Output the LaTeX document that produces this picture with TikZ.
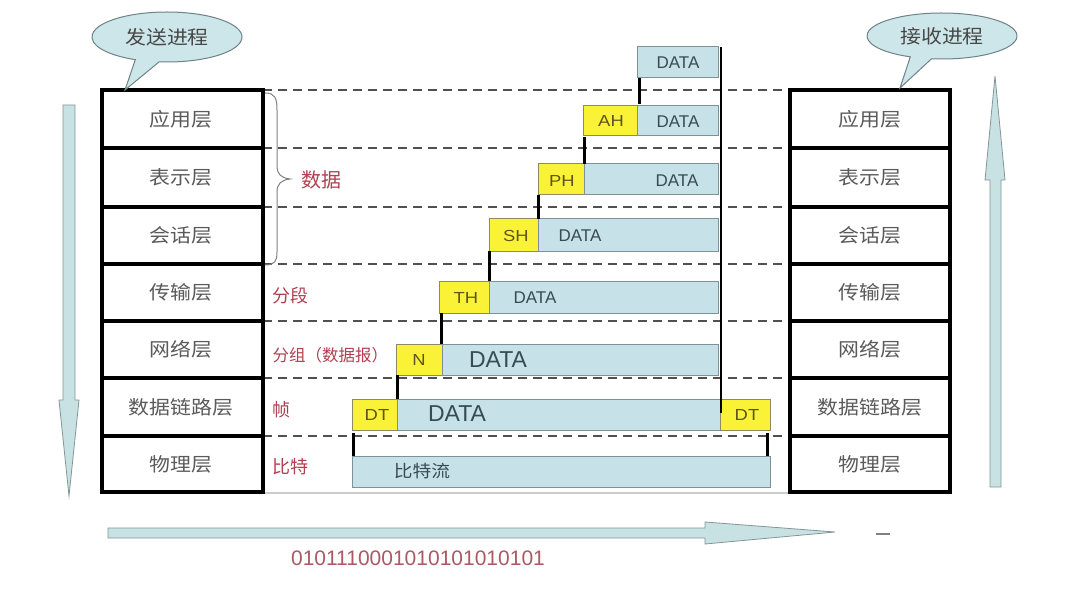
\documentclass[tikz,border=0pt]{standalone}
\usepackage{fontspec}
\setmainfont{Liberation Sans}
\newfontfamily\cjk{Noto Sans CJK SC}
\definecolor{bluefill}{RGB}{198,225,231}
\definecolor{blueline}{RGB}{125,145,150}
\definecolor{hdrfill}{RGB}{250,242,55}
\definecolor{hdrline}{RGB}{140,140,100}
\definecolor{layertxt}{RGB}{90,90,90}
\definecolor{redlbl}{RGB}{176,64,80}
\definecolor{bitstxt}{RGB}{170,90,100}
\definecolor{datatxt}{RGB}{55,75,85}
\definecolor{hdrtxt}{RGB}{95,85,25}
\definecolor{bubfill}{RGB}{205,230,233}
\definecolor{bubline}{RGB}{110,130,135}
\definecolor{arrfill}{RGB}{200,226,228}
\definecolor{arrline}{RGB}{130,150,150}
\definecolor{dashcol}{RGB}{80,80,80}
\begin{document}
\begin{tikzpicture}[x=1pt,y=-1pt,
  layerbox/.style={draw=black, line width=3.8pt, fill=white},
  layertext/.style={font=\cjk\fontsize{19}{21}\selectfont, text=layertxt, xscale=1.1},
  dashline/.style={draw=dashcol, line width=2pt, dash pattern=on 9pt off 6pt},
  datab/.style={fill=bluefill, draw=blueline, line width=1pt},
  hdrb/.style={fill=hdrfill, draw=hdrline, line width=1pt},
  dtxt/.style={font=\fontsize{17}{19}\selectfont, text=datatxt},
  bigtxt/.style={font=\fontsize{23}{25}\selectfont, text=datatxt},
  htxt/.style={font=\fontsize{16}{18}\selectfont, text=hdrtxt, xscale=1.15},
  redtxt/.style={font=\cjk\fontsize{18}{20}\selectfont, text=redlbl, anchor=west},
  tick/.style={draw=black, line width=3pt},
  bubble/.style={fill=bubfill, draw=bubline, line width=1pt},
  bubtext/.style={font=\cjk\fontsize{19}{21}\selectfont, text=layertxt!80!black, xscale=1.1},
  bigarrow/.style={fill=arrfill, draw=arrline, line width=0.8pt}
]
\useasboundingbox (0,0) rectangle (1092,604);
\fill[white] (0,0) rectangle (1092,604);

% dashed layer boundaries
\foreach \y in {90,148,207,264,321,378,436}
  \draw[dashline] (263,\y) -- (790,\y);
\draw[gray!40, line width=1.2pt] (263,493) -- (790,493);

% layer stacks
\foreach [count=\i] \t/\a/\b in {应用层/90/148, 表示层/148/207, 会话层/207/264, 传输层/264/321, 网络层/321/378, 数据链路层/378/436, 物理层/436/492} {
  \draw[layerbox] (102,\a) rectangle (263,\b);
  \node[layertext] (L\i) at (181,{(\a+\b)/2}) {\t};
  \draw[layerbox] (790,\a) rectangle (950,\b);
  \node[layertext] (R\i) at (870,{(\a+\b)/2}) {\t};
}

% brace
\draw[gray, line width=1pt] (265,93) .. controls (275,93) and (277,98) .. (277,110)
  -- (277,166) .. controls (277,174) and (281,178) .. (290,179)
  .. controls (281,180) and (277,184) .. (277,192)
  -- (277,252) .. controls (277,261) and (275,265) .. (265,265);

% labels
\node[redtxt, font=\cjk\fontsize{20}{22}\selectfont] (lbl1) at (298,180) {数据};
\node[redtxt] (lbl2) at (269,296) {分段};
\node[redtxt, font=\cjk\fontsize{16.5}{18}\selectfont] (lbl3) at (269,355) {分组（数据报）};
\node[redtxt] (lbl4) at (269,410) {帧};
\node[redtxt] (lbl5) at (269,467) {比特};

% data blocks
\draw[datab] (637,47) rectangle (718,78);
\node[dtxt] (d0) at (678,63) {DATA};

\draw[hdrb] (583,106) rectangle (637,136);
\node[htxt] (h1) at (611,121) {AH};
\draw[datab] (637,106) rectangle (718,136);
\node[dtxt] (d1) at (678,122) {DATA};

\draw[hdrb] (538,164) rectangle (584,195);
\node[htxt] (h2) at (562,181) {PH};
\draw[datab] (584,164) rectangle (718,195);
\node[dtxt] (d2) at (677,181) {DATA};

\draw[hdrb] (489,219) rectangle (538,251);
\node[htxt] (h3) at (516,236) {SH};
\draw[datab] (538,219) rectangle (718,251);
\node[dtxt] (d3) at (580,236) {DATA};

\draw[hdrb] (439,281) rectangle (489,313);
\node[htxt] (h4) at (466,298) {TH};
\draw[datab] (489,281) rectangle (718,313);
\node[dtxt] (d4) at (535,298) {DATA};

\draw[hdrb] (396,344) rectangle (442,375);
\node[htxt] (h5) at (419,360) {N};
\draw[datab] (442,344) rectangle (718,375);
\node[bigtxt] (d5) at (498,360) {DATA};

\draw[hdrb] (352,399) rectangle (397,430);
\node[htxt] (h6) at (377,415) {DT};
\draw[datab] (397,399) rectangle (720,430);
\node[bigtxt] (d6) at (457,414) {DATA};
\draw[hdrb] (720,399) rectangle (770,430);
\node[htxt] (h7) at (747,415) {DT};

\draw[datab] (352,456) rectangle (770,487);
\node[font=\cjk\fontsize{17}{19}\selectfont, text=datatxt, xscale=1.1] (bs) at (422,471) {比特流};

% ticks
\draw[tick] (639,78) -- (639,104);
\draw[tick] (584,137) -- (584,164);
\draw[tick] (538,195) -- (538,219);
\draw[tick] (489,251) -- (489,281);
\draw[tick] (441,313) -- (441,344);
\draw[tick] (397,375) -- (397,399);
\draw[tick] (353,433) -- (353,456);
\draw[tick] (767,433) -- (767,456);
\draw[draw=black, line width=2.5pt] (721,47) -- (721,413);

% speech bubbles
\draw[bubble] (167,37) ++(96:75 and 25) arc[start angle=96, end angle=-245, x radius=75, y radius=25] -- (125,90) -- cycle;
\node[bubtext] (sendp) at (167,37) {发送进程};
\draw[bubble] (942,36) ++(98:75 and 23) arc[start angle=98, end angle=-245, x radius=75, y radius=23] -- (900,88) -- cycle;
\node[bubtext] (recvp) at (942,36) {接收进程};

% big arrows
\draw[bigarrow] (63,105) -- (75,105) -- (75,400) -- (79,400) -- (69,496) -- (59,400) -- (63,400) -- cycle;
\draw[bigarrow] (990,487) -- (1001,487) -- (1001,180) -- (1005,180) -- (995,76) -- (985,180) -- (990,180) -- cycle;
\draw[bigarrow] (108,528) -- (705,528) -- (705,522) -- (835,532) -- (705,544) -- (705,538) -- (108,538) -- cycle;
\draw[gray, line width=1.5pt] (876,534) -- (890,534);

\node[font=\fontsize{21}{23}\selectfont, text=bitstxt] (bits) at (418,558) {0101110001010101010101};
\end{tikzpicture}
\end{document}
